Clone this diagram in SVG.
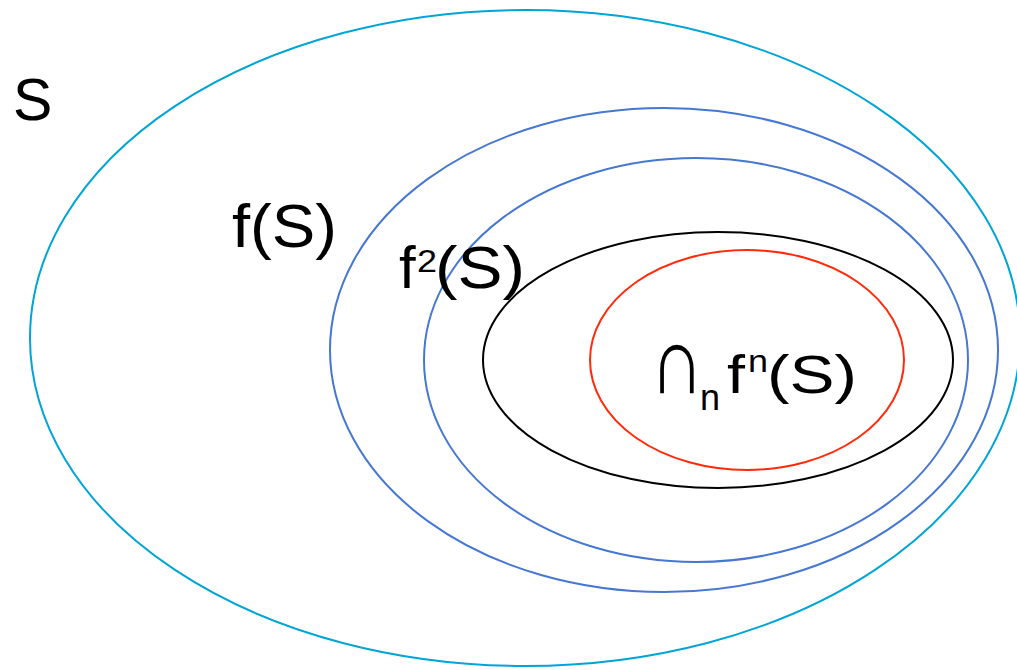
<svg xmlns="http://www.w3.org/2000/svg" width="1017" height="670" viewBox="0 0 1017 670">
<style>
.e{fill:none;stroke-width:2}
.t{font-family:"Liberation Sans",Arial,sans-serif;fill:#000}
</style>
<rect width="1017" height="670" fill="#fff"/>
<g id="S"><ellipse class="e" cx="525" cy="338" rx="495" ry="328" stroke="#00A5D6"/><text class="t" x="13" y="120" font-size="59">S</text></g>
<g id="fS"><ellipse class="e" cx="664" cy="350" rx="334" ry="242" stroke="#4677D1"/><text class="t" x="232" y="247" font-size="62" textLength="105" lengthAdjust="spacingAndGlyphs">f(S)</text></g>
<g id="f2S"><ellipse class="e" cx="696" cy="360" rx="272" ry="202" stroke="#4677D1"/>
<text class="t" x="399" y="288" font-size="60">f</text>
<text class="t" x="417" y="272" font-size="32" textLength="20" lengthAdjust="spacingAndGlyphs">2</text>
<text class="t" x="435" y="288" font-size="59" textLength="90" lengthAdjust="spacingAndGlyphs">(S)</text></g>
<g id="black"><ellipse class="e" cx="718" cy="360" rx="235" ry="128" stroke="#000"/></g>
<g id="fnS"><ellipse class="e" cx="747" cy="360" rx="157" ry="110" stroke="#FF2A0A"/>
<text class="t" transform="translate(650 393) scale(0.78 1)" font-size="96">∩</text>
<text class="t" x="700" y="410" font-size="36">n</text>
<text class="t" x="727" y="393" font-size="54" textLength="18" lengthAdjust="spacingAndGlyphs">f</text>
<text class="t" x="748" y="372" font-size="32" textLength="20" lengthAdjust="spacingAndGlyphs">n</text>
<text class="t" x="767" y="393" font-size="53" textLength="90" lengthAdjust="spacingAndGlyphs">(S)</text></g>
<g id="connectors"/>
</svg>
